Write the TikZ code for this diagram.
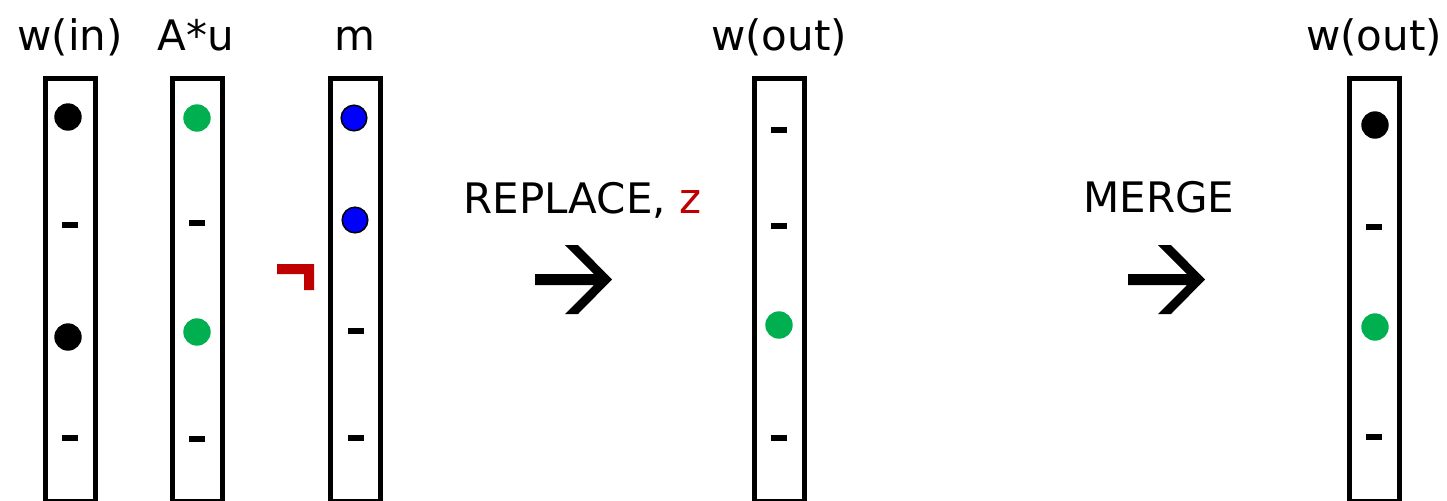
\documentclass[tikz,border=0pt]{standalone}
\usepackage{fontspec}
\setmainfont{DejaVu Sans}
\definecolor{dotgreen}{HTML}{00B050}
\definecolor{dotblue}{HTML}{0000FF}
\definecolor{markred}{HTML}{C00000}
\begin{document}
\begin{tikzpicture}[x=0.5pt,y=-0.5pt,
  col/.style={draw,line width=2.5pt,minimum width=25pt,minimum height=211.25pt,inner sep=0pt},
  lbl/.style={font=\fontsize{21}{25}\selectfont,inner sep=0pt,anchor=base},
  dashbar/.style={fill=black,minimum width=8pt,minimum height=3pt,inner sep=0pt},
  blackdot/.style={circle,fill=black,minimum size=13.7pt,inner sep=0pt},
  greendot/.style={circle,fill=dotgreen,minimum size=13.7pt,inner sep=0pt},
  bluedot/.style={circle,draw=black,line width=0.75pt,fill=dotblue,minimum size=12.8pt,inner sep=0pt},
  bigarrow/.style={fill=black}
]
\useasboundingbox (0,0) rectangle (1447,500);

% columns
\node[col] (c1) at (70.5,289.75) {};
\node[col] (c2) at (197,289.75) {};
\node[col] (c3) at (355.5,289.75) {};
\node[col] (c4) at (779,289.75) {};
\node[col] (c5) at (1374.5,289.75) {};

% labels
\node[lbl] (l1) at (70,50) {w(in)};
\node[lbl] (l2) at (196,50) {A*u};
\node[lbl] (l3) at (355,50) {m};
\node[lbl] (l4) at (779,50) {w(out)};
\node[lbl] (l5) at (1374,50) {w(out)};

% column 1
\node[blackdot] (d11) at (68,117) {};
\node[dashbar] (s11) at (70,225) {};
\node[blackdot] (d12) at (68,337) {};
\node[dashbar] (s12) at (70,438) {};

% column 2
\node[greendot] (d21) at (197,118) {};
\node[dashbar] (s21) at (197,223) {};
\node[greendot] (d22) at (197,332) {};
\node[dashbar] (s22) at (197,439) {};

% column 3
\node[bluedot] (d31) at (354,118) {};
\node[bluedot] (d32) at (355,220) {};
\node[dashbar] (s31) at (355.5,331) {};
\node[dashbar] (s32) at (355.5,438) {};

% column 4
\node[dashbar] (s41) at (779,130) {};
\node[dashbar] (s42) at (779,226) {};
\node[greendot] (d41) at (779,325) {};
\node[dashbar] (s43) at (779,438) {};

% column 5
\node[blackdot] (d51) at (1375,125) {};
\node[dashbar] (s51) at (1374,227) {};
\node[greendot] (d52) at (1375,327) {};
\node[dashbar] (s52) at (1374,437) {};

% red mark
\fill[markred] (277,264) -- (314,264) -- (314,290) -- (304,290) -- (304,274) -- (277,274) -- cycle;

% operation labels
\node[lbl,anchor=base west] (rep) at (463,213) {REPLACE, \textcolor{markred}{z}};
\node[lbl,anchor=base west] (mer) at (1083,212) {MERGE};

% arrows
\fill[bigarrow] (535,274) -- (594,274) -- (565,245) -- (578,245) -- (612,279.5) -- (578,314) -- (565,314) -- (594,285) -- (535,285) -- cycle;
\begin{scope}[xshift=296.5pt]
\fill[bigarrow] (535,274) -- (594,274) -- (565,245) -- (578,245) -- (612,279.5) -- (578,314) -- (565,314) -- (594,285) -- (535,285) -- cycle;
\end{scope}
\end{tikzpicture}
\end{document}
